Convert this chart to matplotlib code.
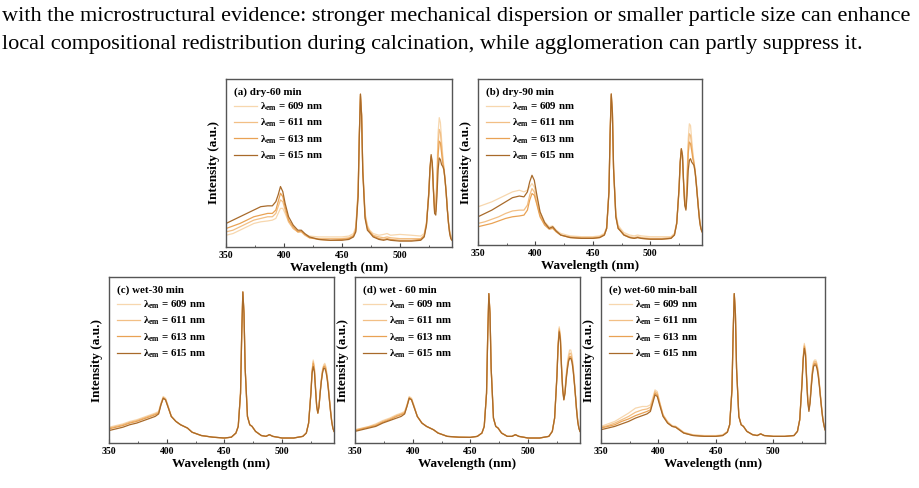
import matplotlib
matplotlib.use('Agg')
import matplotlib.pyplot as plt
from matplotlib.ticker import MultipleLocator

plt.rcParams['font.family'] = ['Liberation Serif', 'DejaVu Serif']
plt.rcParams['mathtext.fontset'] = 'custom'
plt.rcParams['mathtext.rm'] = 'Liberation Serif:bold'
plt.rcParams['mathtext.bf'] = 'Liberation Serif:bold'
plt.rcParams['mathtext.it'] = 'Liberation Serif:bold:italic'

# text of the page above the figure
page_lines = [
    'with the microstructural evidence: stronger mechanical dispersion or smaller particle size can enhance',
    'local compositional redistribution during calcination, while agglomeration can partly suppress it.',
]

# excitation spectra, wavelength grid shared by all panels (nm)
wl = [350, 356, 362, 368, 374, 380, 386, 390, 393, 395,
      397, 399, 401, 404, 408, 412, 415, 418, 422, 430,
      440, 450, 456, 460, 462, 464, 465, 466, 467, 468,
      470, 472, 474, 477, 482, 486, 489, 492, 500, 510,
      518, 521, 523, 525, 526, 527, 528, 529, 530, 531,
      532, 533, 534, 535, 536, 537, 538, 539, 540, 541,
      542, 543, 544, 545]

panel_titles = ['(a) dry-60 min', '(b) dry-90 min', '(c) wet-30 min',
                '(d) wet - 60 min', '(e) wet-60 min-ball']
em_labels = ['609', '611', '613', '615']
em_colors = ['#f7d7ae', '#f2bf85', '#e9a254', '#a86a2a']

# (a) dry-60 min
a_609 = [.07, .08, .10, .12, .14, .15, .155, .16, .17, .20,
         .23, .23, .20, .15, .11, .09, .09, .075, .065, .06,
         .06, .06, .065, .08, .12, .34, .66, .88, .78, .48,
         .20, .13, .10, .08, .07, .075, .08, .07, .075, .07,
         .065, .08, .15, .30, .44, .51, .48, .35, .24, .24,
         .44, .68, .77, .74, .64, .55, .48, .41, .33, .23,
         .15, .10, .07, .06]
a_611 = [.09, .10, .12, .14, .16, .17, .18, .18, .20, .24,
         .28, .27, .22, .15, .11, .09, .09, .07, .055, .05,
         .05, .05, .055, .07, .11, .33, .66, .90, .79, .47,
         .19, .12, .095, .07, .06, .055, .06, .055, .05, .05,
         .05, .07, .14, .32, .46, .53, .49, .34, .22, .22,
         .40, .61, .70, .68, .60, .52, .47, .40, .32, .22,
         .14, .09, .06, .05]
a_613 = [.11, .125, .14, .16, .18, .19, .20, .20, .22, .27,
         .32, .30, .24, .16, .12, .09, .095, .075, .055, .045,
         .04, .045, .05, .065, .10, .32, .66, .91, .79, .46,
         .18, .11, .09, .065, .05, .045, .05, .045, .04, .04,
         .045, .065, .14, .33, .47, .54, .50, .34, .21, .21,
         .36, .55, .63, .62, .56, .50, .46, .40, .32, .22,
         .14, .08, .05, .04]
a_615 = [.14, .16, .18, .20, .22, .24, .245, .245, .27, .31,
         .36, .33, .26, .18, .13, .10, .10, .08, .06, .045,
         .04, .04, .045, .06, .09, .30, .65, .91, .78, .45,
         .17, .10, .085, .06, .045, .04, .045, .04, .035, .035,
         .04, .06, .13, .32, .47, .55, .50, .33, .20, .19,
         .30, .46, .53, .52, .49, .48, .46, .40, .32, .22,
         .14, .08, .05, .04]

# (b) dry-90 min
b_609 = [.23, .245, .26, .28, .30, .32, .33, .32, .33, .35,
         .37, .35, .29, .20, .14, .11, .115, .09, .07, .055,
         .05, .05, .055, .07, .11, .33, .66, .89, .79, .48,
         .19, .12, .10, .075, .06, .055, .06, .055, .05, .05,
         .05, .07, .14, .32, .47, .56, .53, .38, .26, .24,
         .42, .64, .73, .72, .64, .56, .50, .45, .38, .30,
         .22, .15, .11, .09]
b_611 = [.13, .14, .155, .17, .19, .205, .21, .21, .24, .30,
         .34, .32, .26, .18, .125, .10, .105, .08, .06, .05,
         .045, .045, .05, .065, .10, .32, .66, .90, .79, .47,
         .18, .11, .09, .065, .05, .045, .05, .045, .04, .04,
         .045, .065, .13, .33, .49, .57, .53, .37, .25, .23,
         .39, .59, .67, .66, .60, .54, .50, .45, .38, .30,
         .22, .15, .10, .08]
b_613 = [.11, .12, .13, .145, .16, .17, .175, .18, .21, .27,
         .31, .30, .25, .17, .12, .095, .10, .08, .06, .045,
         .04, .04, .045, .06, .10, .32, .67, .91, .80, .46,
         .17, .10, .085, .06, .045, .04, .045, .04, .035, .035,
         .04, .06, .13, .34, .50, .58, .54, .37, .24, .22,
         .36, .55, .62, .61, .57, .52, .49, .44, .37, .29,
         .21, .14, .10, .08]
b_615 = [.17, .19, .21, .235, .26, .285, .295, .29, .32, .38,
         .42, .39, .31, .20, .135, .10, .11, .085, .06, .045,
         .04, .04, .045, .06, .10, .32, .67, .91, .80, .46,
         .17, .10, .085, .06, .045, .04, .045, .04, .035, .035,
         .04, .06, .13, .34, .50, .58, .54, .37, .24, .21,
         .30, .45, .51, .52, .50, .49, .48, .44, .37, .29,
         .21, .14, .10, .08]

# (c) wet-30 min
c_609 = [.095, .105, .115, .13, .14, .155, .17, .18, .19, .24,
         .28, .27, .23, .16, .13, .11, .10, .09, .065, .045,
         .035, .03, .035, .06, .10, .30, .65, .90, .78, .45,
         .16, .11, .10, .07, .045, .04, .05, .04, .03, .03,
         .04, .06, .12, .31, .44, .50, .46, .34, .23, .19,
         .23, .31, .38, .44, .47, .48, .46, .41, .35, .27,
         .20, .14, .09, .07]
c_611 = [.09, .10, .11, .125, .135, .15, .165, .175, .185, .235,
         .275, .265, .225, .16, .13, .11, .10, .09, .065, .045,
         .035, .03, .035, .06, .10, .30, .65, .91, .78, .45,
         .16, .11, .10, .07, .045, .04, .05, .04, .03, .03,
         .04, .06, .12, .31, .43, .49, .45, .33, .22, .18,
         .22, .31, .38, .43, .46, .47, .45, .40, .34, .27,
         .20, .13, .09, .07]
c_613 = [.085, .095, .105, .12, .13, .145, .16, .17, .18, .23,
         .27, .26, .22, .16, .13, .11, .10, .09, .065, .045,
         .035, .03, .035, .06, .10, .30, .65, .91, .78, .45,
         .16, .11, .10, .07, .045, .04, .05, .04, .03, .03,
         .04, .06, .12, .30, .43, .48, .44, .33, .22, .18,
         .22, .30, .37, .43, .46, .46, .44, .40, .34, .26,
         .19, .13, .09, .07]
c_615 = [.075, .085, .095, .11, .12, .135, .15, .16, .175, .23,
         .27, .26, .22, .16, .13, .11, .10, .09, .065, .045,
         .035, .03, .035, .06, .10, .30, .65, .91, .78, .45,
         .16, .11, .10, .07, .045, .04, .05, .04, .03, .03,
         .04, .06, .12, .30, .42, .46, .43, .32, .22, .18,
         .22, .30, .37, .42, .45, .45, .43, .39, .33, .26,
         .19, .13, .09, .07]

# (d) wet - 60 min
d_609 = [.08, .09, .10, .115, .135, .15, .17, .18, .19, .23,
         .28, .27, .23, .16, .12, .10, .09, .08, .06, .04,
         .035, .034, .04, .06, .10, .30, .64, .89, .78, .45,
         .15, .10, .09, .06, .04, .04, .05, .04, .03, .03,
         .04, .07, .15, .41, .60, .70, .65, .47, .33, .27,
         .32, .41, .48, .53, .56, .56, .53, .47, .39, .30,
         .21, .14, .09, .07]
d_611 = [.078, .088, .098, .11, .13, .145, .165, .175, .185, .225,
         .275, .265, .225, .16, .12, .10, .09, .08, .06, .04,
         .035, .034, .04, .06, .10, .30, .64, .90, .78, .45,
         .15, .10, .09, .06, .04, .04, .05, .04, .03, .03,
         .04, .07, .15, .41, .59, .69, .64, .46, .33, .27,
         .31, .40, .46, .51, .54, .54, .51, .46, .38, .29,
         .21, .14, .09, .07]
d_613 = [.075, .085, .095, .105, .125, .14, .16, .17, .18, .22,
         .27, .26, .22, .16, .12, .10, .09, .08, .06, .04,
         .035, .034, .04, .06, .10, .30, .64, .90, .78, .45,
         .15, .10, .09, .06, .04, .04, .05, .04, .03, .03,
         .04, .07, .15, .40, .58, .68, .63, .45, .32, .26,
         .30, .39, .45, .50, .52, .52, .50, .45, .37, .29,
         .20, .13, .09, .07]
d_615 = [.07, .08, .09, .10, .12, .135, .15, .16, .175, .22,
         .27, .26, .22, .16, .12, .10, .09, .08, .06, .04,
         .035, .034, .04, .06, .10, .30, .64, .90, .78, .45,
         .15, .10, .09, .06, .04, .04, .05, .04, .03, .03,
         .04, .07, .15, .40, .58, .67, .62, .45, .32, .26,
         .30, .38, .44, .49, .51, .51, .49, .44, .37, .29,
         .20, .13, .09, .07]

# (e) wet-60 min-ball
e_609 = [.10, .115, .13, .155, .18, .21, .22, .22, .23, .27,
         .32, .31, .25, .17, .13, .105, .10, .085, .065, .05,
         .045, .045, .05, .07, .11, .32, .65, .89, .78, .45,
         .16, .11, .10, .07, .05, .045, .055, .045, .04, .04,
         .045, .07, .14, .37, .52, .60, .56, .40, .27, .21,
         .26, .36, .44, .49, .50, .50, .48, .44, .37, .29,
         .22, .16, .11, .08]
e_611 = [.095, .105, .12, .14, .16, .185, .20, .205, .215, .26,
         .31, .30, .245, .17, .125, .10, .10, .085, .063, .048,
         .042, .042, .047, .067, .11, .32, .65, .90, .78, .45,
         .16, .11, .10, .07, .05, .045, .055, .045, .04, .04,
         .045, .07, .14, .37, .51, .59, .55, .39, .26, .20,
         .25, .35, .43, .48, .49, .49, .47, .43, .36, .29,
         .22, .15, .11, .08]
e_613 = [.09, .10, .11, .13, .145, .165, .18, .19, .20, .25,
         .30, .29, .24, .165, .12, .10, .095, .08, .06, .046,
         .04, .04, .045, .065, .11, .32, .65, .90, .78, .45,
         .16, .11, .10, .07, .05, .045, .055, .045, .04, .04,
         .045, .07, .14, .36, .51, .58, .54, .39, .26, .20,
         .25, .34, .42, .47, .48, .48, .46, .42, .36, .28,
         .21, .15, .11, .08]
e_615 = [.08, .09, .10, .115, .13, .15, .165, .175, .19, .24,
         .29, .28, .23, .16, .12, .10, .095, .08, .06, .045,
         .04, .04, .045, .065, .11, .32, .65, .90, .78, .45,
         .16, .11, .10, .07, .05, .045, .055, .045, .04, .04,
         .045, .07, .14, .36, .50, .57, .53, .38, .25, .19,
         .24, .33, .41, .46, .47, .47, .45, .41, .35, .28,
         .21, .15, .11, .08]

panel_data = [
    [a_609, a_611, a_613, a_615],
    [b_609, b_611, b_613, b_615],
    [c_609, c_611, c_613, c_615],
    [d_609, d_611, d_613, d_615],
    [e_609, e_611, e_613, e_615],
]

W, H = 919, 488
# axes boxes in pixels: left, top, right, bottom
boxes = [(226, 79, 452, 247), (478, 79, 702, 245),
         (109, 277, 334, 443), (355, 277, 580, 443), (601, 277, 825, 443)]

fig = plt.figure(figsize=(W / 100, H / 100), dpi=100)

# page text, scaled so the first line spans the page width
txt = []
for i, line in enumerate(page_lines):
    t = fig.text(2 / W, 1 - (16 + 29 * i) / H, line, fontsize=13.5,
                 va='center', ha='left', color='black')
    txt.append(t)
fig.canvas.draw()
r = fig.canvas.get_renderer()
w0 = txt[0].get_window_extent(r).width
for t in txt:
    t.set_fontsize(13.5 * 913 / w0)

for k in range(5):
    l, t, rr, b = boxes[k]
    ax = fig.add_axes([l / W, 1 - b / H, (rr - l) / W, (b - t) / H])
    for series, lab, col in zip(panel_data[k], em_labels, em_colors):
        ax.plot(wl, series, color=col, lw=0.9,
                label='λ$_{\\mathrm{em}}$ = ' + lab + ' nm')
    ax.set_xlim(350, 545)
    ax.set_ylim(0, 1)
    ax.set_yticks([])
    ax.set_xticks([350, 400, 450, 500])
    ax.xaxis.set_minor_locator(MultipleLocator(25))
    ax.tick_params(axis='x', which='major', direction='in', length=3,
                   width=0.8, labelsize=7, pad=3, color='#444444')
    ax.tick_params(axis='x', which='minor', direction='in', length=1.5,
                   width=0.6, color='#444444')
    for lbl in ax.get_xticklabels():
        lbl.set_fontweight('bold')
    for s in ax.spines.values():
        s.set_color('#555555')
        s.set_linewidth(1.0)
    ax.set_xlabel('Wavelength (nm)', fontsize=9.5, fontweight='bold', labelpad=1)
    ax.set_ylabel('Intensity (a.u.)', fontsize=9.5, fontweight='bold', labelpad=4)
    leg = ax.legend(loc='upper left', frameon=False, fontsize=7.8,
                    title=panel_titles[k], alignment='left',
                    title_fontproperties={'size': 7.8, 'weight': 'bold'},
                    handlelength=2.1, handletextpad=0.3, labelspacing=0.35,
                    borderaxespad=0.3, borderpad=0.45)
    for ltxt in leg.get_texts():
        ltxt.set_fontweight('bold')

fig.savefig('out.png', dpi=100)
